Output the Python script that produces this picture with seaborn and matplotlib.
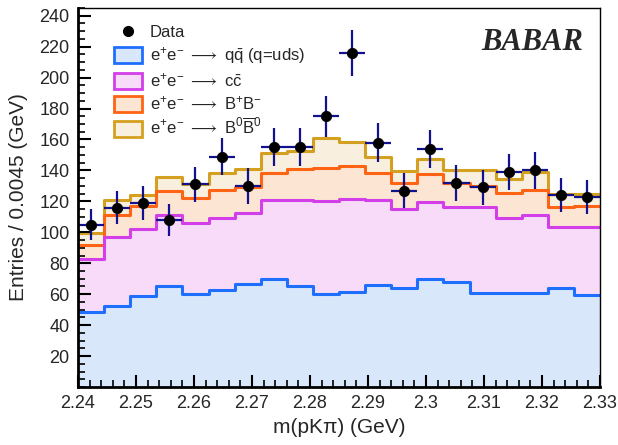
import numpy as np
import pandas as pd
import matplotlib
matplotlib.use("Agg")
import matplotlib.pyplot as plt
import seaborn as sns
from matplotlib.lines import Line2D
from matplotlib.patches import Patch
from matplotlib.ticker import MultipleLocator

# ---- data ----
bin_edges = [2.24 + 0.0045 * i for i in range(21)]
uds  = [48.6, 52.3, 58.7, 65.2, 59.8, 62.6, 66.9, 69.5, 65.2, 60.4,
        61.5, 66.2, 64.0, 69.5, 68.0, 60.9, 60.9, 61.0, 64.0, 59.4]
ccbar = [34.0, 44.7, 43.7, 46.2, 46.2, 46.9, 45.6, 51.5, 55.4, 59.6,
         59.8, 54.4, 50.8, 50.0, 48.3, 55.4, 48.4, 50.0, 39.4, 44.0]
bpbm = [9.0, 14.4, 14.4, 15.1, 16.0, 18.1, 17.0, 17.3, 20.5, 21.5,
        21.5, 17.7, 17.0, 17.9, 15.7, 13.7, 16.2, 16.3, 12.9, 13.4]
b0b0 = [8.2, 9.4, 7.6, 9.2, 9.4, 10.9, 11.5, 12.9, 11.4, 19.3,
        15.5, 10.3, 7.7, 9.7, 8.6, 10.6, 9.1, 11.6, 8.6, 7.7]
data_vals = [105, 116, 119, 108, 131, 149, 130, 155, 155, 175,
             216, 158, 127, 154, 132, 129, 139, 140, 124, 123]
data_errs = [10.2, 10.8, 10.9, 10.4, 11.4, 12.2, 11.4, 12.4, 12.4, 13.2,
             14.7, 12.6, 11.3, 12.4, 11.5, 11.4, 11.8, 11.8, 11.1, 11.1]
x_ticks = [2.24, 2.25, 2.26, 2.27, 2.28, 2.29, 2.30, 2.31, 2.32, 2.33]
x_tick_labels = ["2.24", "2.25", "2.26", "2.27", "2.28", "2.29", "2.3", "2.31", "2.32", "2.33"]

labels = [r"e$^{+}$e$^{-}$ $\longrightarrow$ q$\bar{\mathrm{q}}$ (q=uds)",
          r"e$^{+}$e$^{-}$ $\longrightarrow$ c$\bar{\mathrm{c}}$",
          r"e$^{+}$e$^{-}$ $\longrightarrow$ B$^{+}$B$^{-}$",
          r"e$^{+}$e$^{-}$ $\longrightarrow$ B$^{0}\overline{\mathrm{B}}^{0}$"]
line_colors = ["#1f6fff", "#d23ee8", "#ff6414", "#d4a020"]
fill_colors = ["#d9e7fb", "#f7dbf9", "#fde5d3", "#f8efde"]

# ---- style ----
sns.set_style("white")
plt.rcParams["font.family"] = ["Liberation Sans", "DejaVu Sans"]
plt.rcParams["mathtext.fontset"] = "custom"
plt.rcParams["mathtext.rm"] = "Liberation Sans"
plt.rcParams["mathtext.it"] = "Liberation Sans:italic"
plt.rcParams["mathtext.bf"] = "Liberation Sans:bold"
plt.rcParams["mathtext.fallback"] = "stixsans"

edges = np.array(bin_edges)
centers = 0.5 * (edges[:-1] + edges[1:])
comps = [np.array(uds), np.array(ccbar), np.array(bpbm), np.array(b0b0)]
cum = np.cumsum(np.vstack(comps), axis=0)

fig = plt.figure(figsize=(6.18, 4.45), dpi=100)
ax = fig.add_axes([78 / 618, 1 - 387 / 445, 522 / 618, 379 / 445])

# draw stacked histograms, top layer first
for i in range(3, -1, -1):
    df = pd.DataFrame({"m": centers, "n": cum[i]})
    sns.histplot(data=df, x="m", weights="n", bins=list(bin_edges), element="step",
                 fill=True, color=fill_colors[i], alpha=1, linewidth=0, ax=ax)
    sns.histplot(data=df, x="m", weights="n", bins=list(bin_edges), element="step",
                 fill=False, color=line_colors[i], linewidth=2.2, ax=ax)

# data points
half = 0.0045 / 2
ax.errorbar(centers, data_vals, yerr=data_errs, xerr=half, fmt="none",
            ecolor="#12128f", elinewidth=1.6, capsize=0, zorder=5)
sns.scatterplot(x=centers, y=data_vals, color="black", s=55, zorder=6,
                edgecolor="black", ax=ax)

ax.set_xlim(2.24, 2.33)
ax.set_ylim(0, 245)
ax.set_xticks(x_ticks)
ax.set_xticklabels(x_tick_labels)
ax.set_yticks(range(20, 241, 20))
ax.xaxis.set_minor_locator(MultipleLocator(0.002))
ax.yaxis.set_minor_locator(MultipleLocator(5))
ax.tick_params(axis="both", which="major", direction="in", length=9, width=1.5,
               labelsize=13, top=False, right=False, bottom=True, left=True,
               pad=6, color="black")
ax.tick_params(axis="both", which="minor", direction="in", length=5, width=1.2,
               top=False, right=False, bottom=True, left=True, color="black")
for s in ["left", "bottom"]:
    ax.spines[s].set_linewidth(2.0)
for s in ["top", "right"]:
    ax.spines[s].set_linewidth(1.0)
for s in ax.spines.values():
    s.set_color("black")
    s.set_zorder(10)
ax.set_axisbelow(False)

ax.set_xlabel("m(pKπ) (GeV)", fontsize=15, labelpad=4)
ax.set_ylabel("Entries / 0.0045 (GeV)", fontsize=15, labelpad=8)

ax.text(0.967, 0.91, "BABAR", transform=ax.transAxes, ha="right", va="center",
        fontsize=22, fontweight="bold", fontstyle="italic", family="Liberation Serif")

handles = [Line2D([], [], marker="o", color="black", linestyle="none", markersize=7)]
for i in range(4):
    handles.append(Patch(facecolor=fill_colors[i], edgecolor=line_colors[i], linewidth=2))
leg = ax.legend(handles, ["Data"] + labels, loc="upper left",
                bbox_to_anchor=(0.05, 0.985), frameon=False, fontsize=12,
                handlelength=1.7, handleheight=1.1, labelspacing=0.3,
                handletextpad=0.45, borderaxespad=0.2)
leg.set_zorder(20)

fig.savefig("out.png", dpi=100)
